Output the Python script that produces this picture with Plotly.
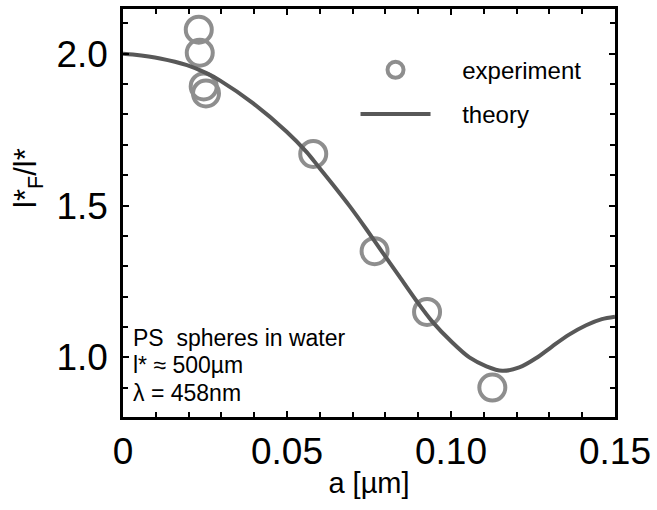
import plotly.graph_objects as go

# experiment points
exp_a = [0.0231, 0.0234, 0.0246, 0.0253, 0.0580, 0.0767, 0.0927, 0.1126]
exp_y = [2.079, 2.003, 1.892, 1.869, 1.670, 1.350, 1.150, 0.901]

# theory curve
th_a = [0.0, 0.0030, 0.0113, 0.0195, 0.0256, 0.0295, 0.0396, 0.0499, 0.0560,
        0.0599, 0.0639, 0.0691, 0.0742, 0.0791, 0.0843, 0.0895, 0.0943, 0.1004,
        0.1056, 0.1108, 0.1156, 0.1208, 0.1260, 0.1308, 0.1360, 0.1412, 0.1460, 0.1500]
th_y = [2.000, 1.997, 1.984, 1.962, 1.935, 1.912, 1.837, 1.743, 1.676,
        1.624, 1.570, 1.498, 1.422, 1.346, 1.266, 1.186, 1.118, 1.049,
        1.000, 0.971, 0.956, 0.967, 0.998, 1.036, 1.075, 1.106, 1.126, 1.134]

x_ticks = [0, 0.05, 0.10, 0.15]
x_ticklabels = ["0", "0.05", "0.10", "0.15"]
y_ticks = [1.0, 1.5, 2.0]
y_ticklabels = ["1.0", "1.5", "2.0"]

info_lines = ["PS  spheres in water", "l* ≈ 500µm", "λ = 458nm"]

FONT = "Liberation Sans, Arial, sans-serif"
NBSP = "\u00a0"

fig = go.Figure()
fig.add_trace(go.Scatter(
    x=exp_a, y=exp_y, mode="markers", name=NBSP * 4 + "experiment",
    marker=dict(symbol="circle-open", size=26, color="#8e8e8e",
                line=dict(width=4, color="#8e8e8e")),
    legendgroup="a",
))
fig.add_trace(go.Scatter(
    x=th_a, y=th_y, mode="lines", name=NBSP * 4 + "theory",
    line=dict(color="#585858", width=4, shape="spline", smoothing=0.8),
    legendgroup="b",
))

axis_common = dict(
    showline=True, linecolor="black", linewidth=2.5, mirror="ticks",
    ticks="inside", ticklen=6, tickwidth=1.5, tickcolor="black",
    showgrid=False, zeroline=False,
    tickfont=dict(family=FONT, size=37, color="black"),
)

fig.update_xaxes(range=[0, 0.15], tickmode="array", tickvals=x_ticks,
                 ticktext=x_ticklabels, ticklabelstandoff=0,
                 minor=dict(tickmode="linear", tick0=0, dtick=0.01, ticks="inside",
                            ticklen=5, tickwidth=1.5, tickcolor="black"),
                 title=dict(text="a [µm]", font=dict(family=FONT, size=29, color="black"),
                            standoff=2),
                 **axis_common)
fig.update_yaxes(range=[0.804, 2.147], tickmode="array", tickvals=y_ticks,
                 ticktext=y_ticklabels, ticklabelstandoff=5,
                 minor=dict(tickmode="linear", tick0=0, dtick=0.1, ticks="inside",
                            ticklen=5, tickwidth=1.5, tickcolor="black"),
                 **axis_common)

fig.add_annotation(
    text="l*<sub>F</sub>/l*", textangle=-90, xref="paper", yref="paper",
    x=(28 - 123) / 493, y=(417 - 176) / 411, xanchor="center", yanchor="middle",
    showarrow=False, font=dict(family=FONT, size=31, color="black"),
)
for i, line in enumerate(info_lines):
    fig.add_annotation(
        text=line, xref="paper", yref="paper",
        x=(131 - 123) / 493, y=(417 - (337 + 28 * i)) / 411,
        xanchor="left", yanchor="middle", align="left", showarrow=False,
        font=dict(family=FONT, size=23, color="black"),
    )

fig.update_layout(
    width=657, height=510,
    margin=dict(l=123, r=41, t=6, b=93),
    paper_bgcolor="white", plot_bgcolor="white",
    showlegend=True,
    legend=dict(x=(356 - 123) / 493, y=(417 - 45) / 411, xanchor="left", yanchor="top",
                bgcolor="rgba(0,0,0,0)", font=dict(family=FONT, size=24, color="black"),
                itemwidth=70, tracegroupgap=10, traceorder="grouped"),
)

fig.write_html("out.html", post_script="document.body.style.margin='0';",
               config={"displayModeBar": False})
